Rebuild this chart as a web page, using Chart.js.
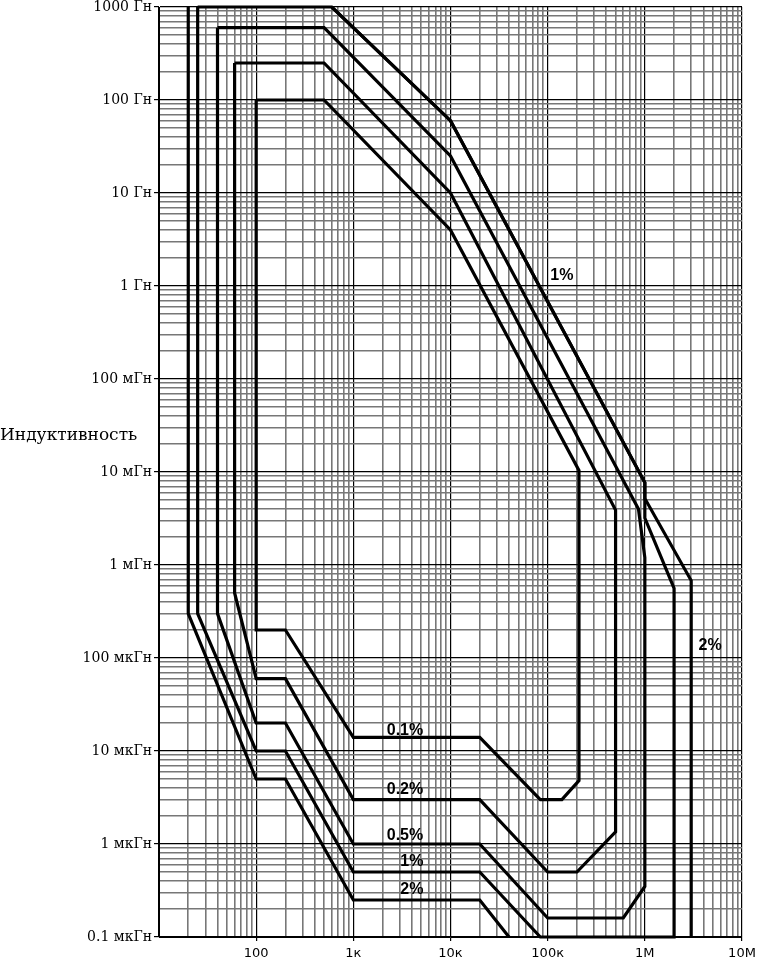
<!DOCTYPE html>
<html>
<head>
    <meta charset="utf-8">
    <title>Индуктивность</title>
    <style>
        body {
            margin: 0;
            padding: 0;
            background-color: #fff;
        }
        #wrap {
            position: relative;
            width: 758px;
            height: 963px;
        }
    </style>
</head>
<body>
    <div id="wrap"><canvas id="chart"></canvas></div>

    <script src="https://cdn.jsdelivr.net/npm/chart.js"></script>
    <script>
        // axis ticks: frequency in Hz, inductance in H
        const xTickValues = [100, 1e3, 1e4, 1e5, 1e6, 1e7];
        const xTickLabels = ['100', '1к', '10к', '100к', '1M', '10M'];
        const yTickValues = [1e-7, 1e-6, 1e-5, 1e-4, 1e-3, 1e-2, 1e-1, 1, 10, 100, 1000];
        const yTickLabels = ['0.1 мкГн', '1 мкГн', '10 мкГн', '100 мкГн', '1 мГн', '10 мГн',
                             '100 мГн', '1 Гн', '10 Гн', '100 Гн', '1000 Гн'];

        // accuracy contours (frequency Hz / inductance H)
        const tenthF = [100, 500, 1e4, 210000, 210000, 140000, 84000, 20000, 1000, 200, 100, 100];
        const tenthL = [100, 100, 4, 0.0104, 4.8e-6, 3e-6, 3e-6, 1.4e-5, 1.4e-5, 2e-4, 2e-4, 100];

        const fifthF = [60, 500, 1e4, 500000, 500000, 200000, 100000, 20000, 1000, 200, 100, 60, 60];
        const fifthL = [250, 250, 10, 3.9e-3, 1.35e-6, 5e-7, 5e-7, 3e-6, 3e-6, 6e-5, 6e-5, 5e-4, 250];

        const halfF = [40, 500, 1e4, 860000, 1e6, 1e6, 600000, 100000, 20000, 1000, 200, 100, 40, 40];
        const halfL = [600, 600, 25, 4e-3, 1.2e-3, 3.5e-7, 1.6e-7, 1.6e-7, 1e-6, 1e-6, 2e-5, 2e-5, 3e-4, 600];

        const oneF = [25, 600, 1e4, 1e6, 1e6, 2e6, 2e6, 84000, 20000, 1000, 200, 100, 25, 25];
        const oneL = [1000, 1000, 60, 7.7e-3, 3.2e-3, 5.6e-4, 1e-7, 1e-7, 5e-7, 5e-7, 1e-5, 1e-5, 3e-4, 1000];

        // 2% runs off the plot at the top and bottom, and shares the 1% edge above 1 MHz
        const twoF = [20, 20, 100, 200, 1000, 20000, 40000, 80000, 3e6, 3e6, 1e6, 1e6, 1e4, 300, 20];
        const twoL = [2000, 3e-4, 5e-6, 5e-6, 2.5e-7, 2.5e-7, 1e-7, 4e-8, 4e-8, 6.8e-4, 5.2e-3, 7.7e-3, 60, 2000, 2000];

        // curve labels
        const labelText = ['1%', '2%', '0.1%', '0.2%', '0.5%', '1%', '2%'];
        const labelF = [140000, 4.7e6, 3400, 3400, 3400, 4000, 4000];
        const labelL = [1.3, 1.37e-4, 1.67e-5, 3.8e-6, 1.24e-6, 6.4e-7, 3.2e-7];

        function toPoints(fs, ls) {
            return fs.map((f, i) => ({x: f, y: ls[i]}));
        }

        function logGrid(minExp, maxExp) {
            const ticks = [];
            for (let e = minExp; e < maxExp; e++) {
                for (let s = 1; s < 10; s++) {
                    ticks.push({value: +(s * Number('1e' + e)).toPrecision(3)});
                }
            }
            ticks.push({value: Number('1e' + maxExp)});
            return ticks;
        }

        function isDecade(v) {
            const l = Math.log10(v);
            return Math.abs(l - Math.round(l)) < 1e-6;
        }

        const gridStyle = {
            color: ctx => isDecade(ctx.tick.value) ? '#000' : '#777',
            lineWidth: ctx => isDecade(ctx.tick.value) ? 1.2 : 1.6,
            tickColor: '#000',
            tickLength: 5
        };

        const sideText = {
            id: 'sideText',
            afterDatasetsDraw(chart) {
                const ctx = chart.ctx;
                const xs = chart.scales.x, ys = chart.scales.y;
                ctx.save();
                ctx.fillStyle = '#000';
                ctx.font = 'bold 16px "Liberation Sans", Arial, sans-serif';
                ctx.textAlign = 'center';
                ctx.textBaseline = 'middle';
                labelText.forEach((t, i) => {
                    ctx.fillText(t, xs.getPixelForValue(labelF[i]), ys.getPixelForValue(labelL[i]));
                });
                ctx.font = '17px "DejaVu Serif", serif';
                ctx.textAlign = 'left';
                ctx.textBaseline = 'alphabetic';
                ctx.fillText('Индуктивность', 0, 440);
                ctx.restore();
            }
        };

        const series = [
            ['0.1%', tenthF, tenthL],
            ['0.2%', fifthF, fifthL],
            ['0.5%', halfF, halfL],
            ['1%', oneF, oneL],
            ['2%', twoF, twoL]
        ];

        new Chart(document.getElementById('chart'), {
            type: 'scatter',
            data: {
                datasets: series.map(s => ({
                    label: s[0],
                    data: toPoints(s[1], s[2]),
                    showLine: true,
                    borderColor: '#000',
                    borderWidth: 3.2,
                    pointRadius: 0,
                    tension: 0,
                    clip: s[0] === '1%' ? 2 : 0
                }))
            },
            options: {
                responsive: true,
                maintainAspectRatio: false,
                animation: false,
                layout: {padding: {top: 7, right: 16, left: 0, bottom: 0}},
                plugins: {
                    legend: {display: false},
                    tooltip: {enabled: false}
                },
                scales: {
                    x: {
                        type: 'logarithmic',
                        min: 10,
                        max: 1e7,
                        afterBuildTicks: s => { s.ticks = logGrid(1, 7); },
                        afterFit: s => { s.height = 26; s.paddingLeft = 0; s.paddingRight = 0; },
                        ticks: {
                            autoSkip: false,
                            maxRotation: 0,
                            padding: 5,
                            color: '#000',
                            font: {family: 'DejaVu Sans', size: 13},
                            callback: v => {
                                const i = xTickValues.indexOf(v);
                                return i < 0 ? '' : xTickLabels[i];
                            }
                        },
                        grid: Object.assign({}, gridStyle, {
                            tickColor: ctx => xTickValues.includes(ctx.tick.value) ? '#000' : 'rgba(0,0,0,0)',
                            tickLength: 4
                        }),
                        border: {color: '#000', width: 1}
                    },
                    y: {
                        type: 'logarithmic',
                        min: 1e-7,
                        max: 1000,
                        afterBuildTicks: s => { s.ticks = logGrid(-7, 3); },
                        afterFit: s => { s.width = 159; s.paddingTop = 0; s.paddingBottom = 0; },
                        ticks: {
                            autoSkip: false,
                            padding: 2,
                            color: '#000',
                            font: {family: 'DejaVu Serif', size: 14},
                            callback: v => {
                                const i = yTickValues.indexOf(v);
                                return i < 0 ? '' : yTickLabels[i];
                            }
                        },
                        grid: Object.assign({}, gridStyle, {
                            tickColor: ctx => yTickValues.includes(ctx.tick.value) ? '#000' : 'rgba(0,0,0,0)'
                        }),
                        border: {color: '#000', width: 1}
                    }
                }
            },
            plugins: [sideText]
        });
    </script>
</body>
</html>
